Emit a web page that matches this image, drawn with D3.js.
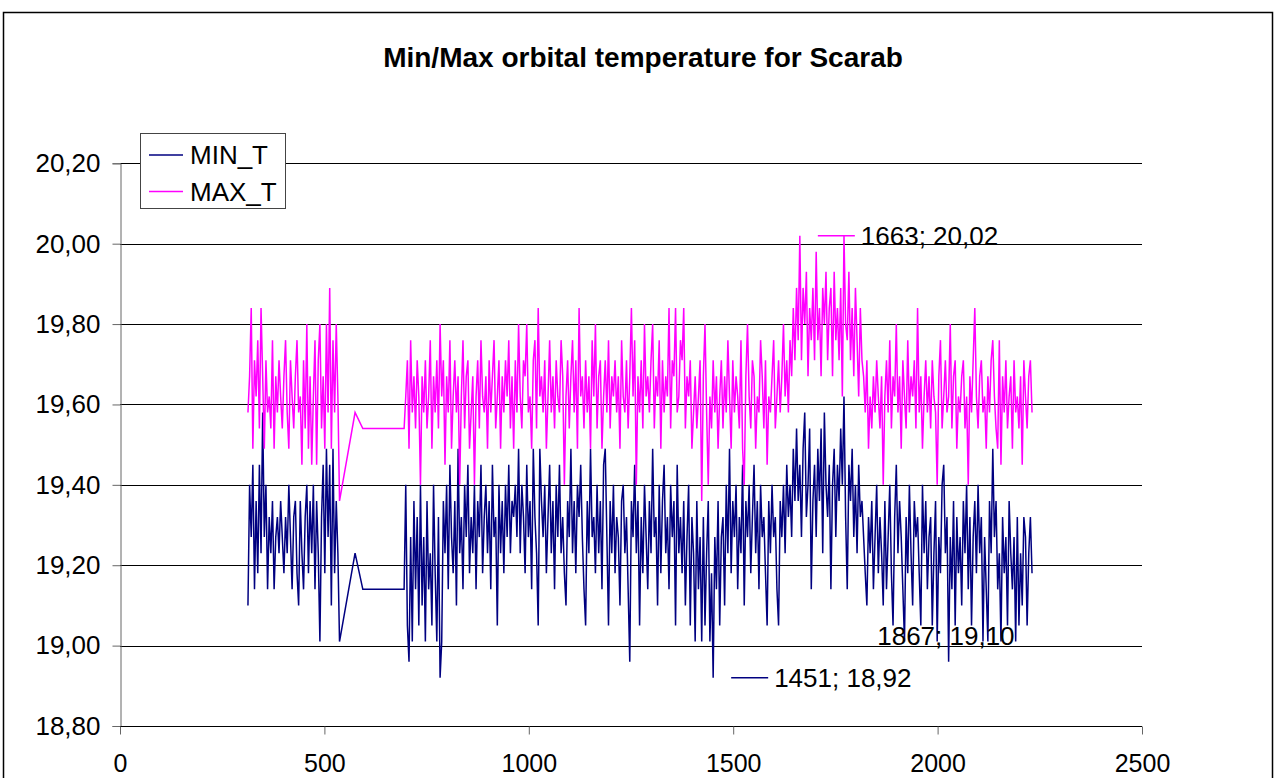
<html>
<head>
<meta charset="utf-8">
<title>Min/Max orbital temperature for Scarab</title>
<script src="https://cdn.jsdelivr.net/npm/d3@7"></script>
<style>
  body { margin: 0; background: #fff; }
  svg text { font-family: "Liberation Sans", Arial, sans-serif; fill: #000; }
  .grid line { stroke: #000; stroke-width: 1; }
</style>
</head>
<body>
<svg id="chart"></svg>
<script>
const WIDTH = 1276
const HEIGHT = 778

const title = "Min/Max orbital temperature for Scarab"
const seriesNames = ["MIN_T", "MAX_T"]
const seriesColors = ["#000080", "#ff00ff"]

const xTicks = [0, 500, 1000, 1500, 2000, 2500]
const yTicks = [18.8, 19.0, 19.2, 19.4, 19.6, 19.8, 20.0, 20.2]
const yTickLabels = ["18,80", "19,00", "19,20", "19,40", "19,60", "19,80", "20,00", "20,20"]

// orbit numbers
const orbit = [
  313, 317, 321, 325, 329, 333, 337, 341, 345, 349,
  353, 357, 361, 365, 369, 373, 377, 381, 385, 389,
  393, 397, 401, 405, 409, 413, 417, 421, 425, 429,
  433, 437, 441, 445, 449, 453, 457, 461, 465, 469,
  473, 477, 481, 485, 489, 493, 497, 501, 505, 509,
  513, 517, 521, 525, 529, 533, 537,
  575, 594, 695,
  699, 703, 707, 711, 715, 719, 723, 727, 731, 735,
  739, 743, 747, 751, 755, 759, 763, 767, 771, 775,
  779, 783, 787, 791, 795, 799, 803, 807, 811, 815,
  819, 823, 827, 831, 835, 839, 843, 847, 851, 855,
  859, 863, 867, 871, 875, 879, 883, 887, 891, 895,
  899, 903, 907, 911, 915, 919, 923, 927, 931, 935,
  939, 943, 947, 951, 955, 959, 963, 967, 971, 975,
  979, 983, 987, 991, 995, 999, 1003, 1007, 1011, 1015,
  1019, 1023, 1027, 1031, 1035, 1039, 1043, 1047, 1051, 1055,
  1059, 1063, 1067, 1071, 1075, 1079, 1083, 1087, 1091, 1095,
  1099, 1103, 1107, 1111, 1115, 1119, 1123, 1127, 1131, 1135,
  1139, 1143, 1147, 1151, 1155, 1159, 1163, 1167, 1171, 1175,
  1179, 1183, 1187, 1191, 1195, 1199, 1203, 1207, 1211, 1215,
  1219, 1223, 1227, 1231, 1235, 1239, 1243, 1247, 1251, 1255,
  1259, 1263, 1267, 1271, 1275, 1279, 1283, 1287, 1291, 1295,
  1299, 1303, 1307, 1311, 1315, 1319, 1323, 1327, 1331, 1335,
  1339, 1343, 1347, 1351, 1355, 1359, 1363, 1367, 1371, 1375,
  1379, 1383, 1387, 1391, 1395, 1399, 1403, 1407, 1411, 1415,
  1419, 1423, 1427, 1431, 1435, 1439, 1443, 1447, 1451, 1455,
  1459, 1463, 1467, 1471, 1475, 1479, 1483, 1487, 1491, 1495,
  1499, 1503, 1507, 1511, 1515, 1519, 1523, 1527, 1531, 1535,
  1539, 1543, 1547, 1551, 1555, 1559, 1563, 1567, 1571, 1575,
  1579, 1583, 1587, 1591, 1595, 1599, 1603, 1607, 1611, 1615,
  1619, 1623, 1627, 1631, 1635, 1639, 1643, 1647, 1651, 1655,
  1659, 1663, 1667, 1671, 1675, 1679, 1683, 1687, 1691, 1695,
  1699, 1703, 1707, 1711, 1715, 1719, 1723, 1727, 1731, 1735,
  1739, 1743, 1747, 1751, 1755, 1759, 1763, 1767, 1771, 1775,
  1779, 1783, 1787, 1791, 1795, 1799, 1803, 1807, 1811, 1815,
  1819, 1823, 1827, 1831, 1835, 1839, 1843, 1847, 1851, 1855,
  1859, 1863, 1867, 1871, 1875, 1879, 1883, 1887, 1891, 1895,
  1899, 1903, 1907, 1911, 1915, 1919, 1923, 1927, 1931, 1935,
  1939, 1943, 1947, 1951, 1955, 1959, 1963, 1967, 1971, 1975,
  1979, 1983, 1987, 1991, 1995, 1999, 2003, 2007, 2011, 2015,
  2019, 2023, 2027, 2031, 2035, 2039, 2043, 2047, 2051, 2055,
  2059, 2063, 2067, 2071, 2075, 2079, 2083, 2087, 2091, 2095,
  2099, 2103, 2107, 2111, 2115, 2119, 2123, 2127, 2131, 2135,
  2139, 2143, 2147, 2151, 2155, 2159, 2163, 2167, 2171, 2175,
  2179, 2183, 2187, 2191, 2195, 2199, 2203, 2207, 2211, 2215,
  2219, 2223, 2227, 2231
]

const minT = [
  19.10, 19.40, 19.27, 19.45, 19.14, 19.36, 19.18, 19.45, 19.23, 19.58,
  19.27, 19.40, 19.14, 19.32, 19.23, 19.36, 19.14, 19.27, 19.32, 19.23,
  19.36, 19.27, 19.18, 19.32, 19.23, 19.40, 19.27, 19.14, 19.32, 19.36,
  19.18, 19.10, 19.36, 19.23, 19.14, 19.32, 19.40, 19.18, 19.36, 19.23,
  19.40, 19.14, 19.36, 19.23, 19.01, 19.32, 19.45, 19.18, 19.49, 19.27,
  19.45, 19.10, 19.49, 19.18, 19.36, 19.23, 19.01,
  19.23, 19.14, 19.14,
  19.40, 19.05, 18.96, 19.27, 19.01, 19.36, 19.14, 19.32, 19.05, 19.40,
  19.10, 19.27, 19.01, 19.36, 19.14, 19.23, 19.05, 19.40, 19.18, 19.01,
  19.32, 18.92, 19.01, 19.36, 19.23, 19.40, 19.14, 19.45, 19.27, 19.18,
  19.36, 19.10, 19.49, 19.23, 19.32, 19.14, 19.40, 19.27, 19.45, 19.18,
  19.32, 19.23, 19.40, 19.14, 19.36, 19.27, 19.45, 19.18, 19.32, 19.40,
  19.23, 19.36, 19.14, 19.45, 19.27, 19.32, 19.05, 19.40, 19.23, 19.36,
  19.18, 19.40, 19.27, 19.45, 19.23, 19.36, 19.32, 19.40, 19.27, 19.49,
  19.23, 19.40, 19.32, 19.18, 19.45, 19.27, 19.36, 19.14, 19.49, 19.32,
  19.23, 19.05, 19.49, 19.36, 19.27, 19.40, 19.18, 19.32, 19.45, 19.23,
  19.36, 19.14, 19.40, 19.27, 19.45, 19.23, 19.32, 19.18, 19.10, 19.36,
  19.27, 19.49, 19.23, 19.36, 19.18, 19.40, 19.32, 19.45, 19.27, 19.14,
  19.05, 19.36, 19.23, 19.49, 19.27, 19.32, 19.18, 19.40, 19.23, 19.36,
  19.14, 19.45, 19.49, 19.27, 19.05, 19.36, 19.23, 19.40, 19.18, 19.32,
  19.27, 19.10, 19.36, 19.40, 19.23, 19.32, 19.14, 18.96, 19.36, 19.27,
  19.45, 19.23, 19.36, 19.05, 19.32, 19.18, 19.40, 19.27, 19.14, 19.36,
  19.23, 19.49, 19.27, 19.32, 19.10, 19.40, 19.18, 19.36, 19.45, 19.23,
  19.32, 19.14, 19.40, 19.27, 19.36, 19.05, 19.45, 19.23, 19.32, 19.18,
  19.36, 19.10, 19.27, 19.40, 19.05, 19.32, 19.23, 19.01, 19.36, 19.14,
  19.27, 19.01, 19.32, 19.05, 19.23, 19.36, 19.01, 19.18, 18.92, 19.27,
  19.14, 19.36, 19.05, 19.27, 19.32, 19.10, 19.40, 19.23, 19.49, 19.18,
  19.36, 19.27, 19.40, 19.14, 19.32, 19.23, 19.45, 19.10, 19.36, 19.27,
  19.40, 19.18, 19.32, 19.45, 19.23, 19.36, 19.14, 19.40, 19.27, 19.32,
  19.18, 19.05, 19.36, 19.23, 19.40, 19.27, 19.32, 19.14, 19.05, 19.36,
  19.27, 19.40, 19.23, 19.45, 19.32, 19.40, 19.27, 19.49, 19.36, 19.54,
  19.36, 19.45, 19.27, 19.49, 19.58, 19.32, 19.40, 19.54, 19.14, 19.36,
  19.45, 19.27, 19.49, 19.36, 19.54, 19.23, 19.58, 19.40, 19.32, 19.45,
  19.14, 19.40, 19.49, 19.27, 19.45, 19.36, 19.54, 19.40, 19.62, 19.32,
  19.14, 19.45, 19.36, 19.49, 19.27, 19.40, 19.23, 19.45, 19.32, 19.36,
  19.27, 19.18, 19.10, 19.32, 19.23, 19.36, 19.14, 19.27, 19.40, 19.18,
  19.32, 19.23, 19.10, 19.36, 19.14, 19.27, 19.40, 19.18, 19.05, 19.32,
  19.45, 19.23, 19.36, 19.27, 19.14, 19.01, 19.32, 19.18, 19.40, 19.23,
  19.10, 19.36, 19.27, 19.32, 19.18, 19.05, 19.40, 19.23, 19.36, 19.14,
  19.27, 19.32, 19.05, 19.23, 19.36, 19.01, 19.27, 19.18, 19.40, 19.45,
  19.23, 19.32, 18.96, 19.27, 19.14, 19.36, 19.05, 19.32, 19.18, 19.27,
  19.10, 19.36, 19.23, 19.40, 19.14, 19.32, 19.05, 19.27, 19.36, 19.18,
  19.40, 19.23, 19.32, 19.01, 19.27, 19.14, 19.01, 19.36, 19.23, 19.49,
  19.27, 19.36, 19.14, 19.23, 19.01, 19.32, 19.18, 19.27, 19.05, 19.36,
  19.23, 19.14, 19.27, 19.01, 19.32, 19.05, 19.23, 19.10, 19.32, 19.27,
  19.05, 19.23, 19.32, 19.18
]

const maxT = [
  19.58, 19.67, 19.84, 19.49, 19.71, 19.62, 19.76, 19.54, 19.84, 19.67,
  19.49, 19.71, 19.58, 19.62, 19.54, 19.76, 19.49, 19.67, 19.58, 19.71,
  19.62, 19.54, 19.67, 19.76, 19.58, 19.49, 19.71, 19.62, 19.54, 19.67,
  19.76, 19.58, 19.62, 19.45, 19.71, 19.54, 19.80, 19.49, 19.67, 19.45,
  19.62, 19.76, 19.45, 19.71, 19.80, 19.54, 19.67, 19.49, 19.80, 19.58,
  19.89, 19.49, 19.76, 19.58, 19.80, 19.62, 19.36,
  19.58, 19.54, 19.54,
  19.62, 19.71, 19.49, 19.76, 19.58, 19.67, 19.54, 19.71, 19.62, 19.40,
  19.67, 19.58, 19.71, 19.54, 19.62, 19.76, 19.49, 19.67, 19.58, 19.71,
  19.54, 19.80, 19.62, 19.71, 19.45, 19.67, 19.58, 19.76, 19.49, 19.62,
  19.71, 19.58, 19.67, 19.40, 19.62, 19.76, 19.54, 19.67, 19.71, 19.49,
  19.58, 19.67, 19.40, 19.62, 19.71, 19.54, 19.76, 19.62, 19.58, 19.67,
  19.49, 19.71, 19.58, 19.67, 19.76, 19.54, 19.62, 19.71, 19.49, 19.67,
  19.58, 19.71, 19.62, 19.76, 19.54, 19.67, 19.49, 19.71, 19.58, 19.80,
  19.62, 19.54, 19.71, 19.67, 19.80, 19.58, 19.62, 19.49, 19.71, 19.76,
  19.54, 19.84, 19.62, 19.67, 19.58, 19.71, 19.49, 19.62, 19.76, 19.58,
  19.67, 19.54, 19.71, 19.62, 19.58, 19.76, 19.67, 19.40, 19.62, 19.71,
  19.54, 19.67, 19.76, 19.58, 19.71, 19.49, 19.84, 19.62, 19.67, 19.54,
  19.71, 19.58, 19.67, 19.49, 19.76, 19.62, 19.80, 19.54, 19.67, 19.71,
  19.49, 19.62, 19.71, 19.58, 19.76, 19.54, 19.67, 19.62, 19.71, 19.58,
  19.67, 19.49, 19.76, 19.62, 19.58, 19.71, 19.54, 19.67, 19.84, 19.62,
  19.76, 19.40, 19.67, 19.58, 19.71, 19.54, 19.80, 19.62, 19.67, 19.58,
  19.71, 19.80, 19.54, 19.67, 19.62, 19.76, 19.49, 19.71, 19.58, 19.67,
  19.62, 19.84, 19.54, 19.71, 19.67, 19.84, 19.58, 19.62, 19.76, 19.71,
  19.84, 19.54, 19.67, 19.62, 19.71, 19.49, 19.58, 19.67, 19.54, 19.62,
  19.71, 19.36, 19.67, 19.80, 19.58, 19.40, 19.62, 19.54, 19.71, 19.58,
  19.67, 19.49, 19.62, 19.71, 19.54, 19.67, 19.58, 19.76, 19.62, 19.49,
  19.71, 19.58, 19.67, 19.62, 19.54, 19.76, 19.49, 19.40, 19.67, 19.80,
  19.62, 19.54, 19.71, 19.67, 19.49, 19.62, 19.58, 19.76, 19.67, 19.54,
  19.71, 19.45, 19.62, 19.58, 19.67, 19.76, 19.54, 19.62, 19.71, 19.58,
  19.67, 19.80, 19.62, 19.71, 19.58, 19.76, 19.67, 19.84, 19.71, 19.89,
  19.76, 20.02, 19.71, 19.89, 19.80, 19.93, 19.67, 19.84, 19.76, 19.89,
  19.71, 19.98, 19.76, 19.84, 19.67, 19.89, 19.80, 19.93, 19.71, 19.84,
  19.89, 19.67, 19.93, 19.76, 19.84, 19.71, 19.89, 19.62, 20.02, 19.80,
  19.76, 19.93, 19.71, 19.84, 19.67, 19.89, 19.76, 19.62, 19.84, 19.71,
  19.67, 19.58, 19.71, 19.49, 19.62, 19.54, 19.67, 19.58, 19.71, 19.62,
  19.54, 19.67, 19.40, 19.62, 19.71, 19.58, 19.76, 19.54, 19.67, 19.62,
  19.80, 19.58, 19.67, 19.49, 19.71, 19.62, 19.54, 19.76, 19.58, 19.67,
  19.62, 19.71, 19.54, 19.84, 19.58, 19.67, 19.49, 19.62, 19.71, 19.58,
  19.67, 19.54, 19.71, 19.62, 19.58, 19.40, 19.67, 19.76, 19.54, 19.62,
  19.71, 19.58, 19.62, 19.80, 19.54, 19.67, 19.71, 19.49, 19.62, 19.58,
  19.67, 19.71, 19.54, 19.62, 19.40, 19.67, 19.58, 19.71, 19.84, 19.62,
  19.54, 19.67, 19.71, 19.58, 19.62, 19.49, 19.67, 19.58, 19.71, 19.76,
  19.62, 19.54, 19.49, 19.76, 19.45, 19.67, 19.58, 19.71, 19.54, 19.62,
  19.67, 19.49, 19.71, 19.58, 19.62, 19.54, 19.67, 19.45, 19.71, 19.62,
  19.54, 19.67, 19.71, 19.58
]

// data labels: [orbit, value, text, series]
const pointLabels = [
  [1663, 20.02, "1663; 20,02", 1],
  [1451, 18.92, "1451; 18,92", 0],
  [1867, 19.10, "1867; 19,10", 0]
]

function drawChart() {
  const svg = d3.select("#chart")
    .attr("width", WIDTH)
    .attr("height", HEIGHT)

  // chart area border
  svg.append("rect")
    .attr("x", 3.5).attr("y", 12.5)
    .attr("width", 1269).attr("height", 790)
    .attr("fill", "white")
    .attr("stroke", "#000")
    .attr("stroke-width", 1.5)

  const x = d3.scaleLinear().domain([0, 2500]).range([120, 1142])
  const y = d3.scaleLinear().domain([18.8, 20.2]).range([726, 163.3])

  svg.append("text")
    .attr("x", 643).attr("y", 67)
    .attr("text-anchor", "middle")
    .style("font-size", "28px")
    .style("font-weight", "bold")
    .text(title)

  // gridlines
  svg.append("g").attr("class", "grid")
    .selectAll("line")
    .data(yTicks.slice(1))
    .enter().append("line")
      .attr("x1", x(0)).attr("x2", x(2500))
      .attr("y1", d => Math.round(y(d)) + 0.5)
      .attr("y2", d => Math.round(y(d)) + 0.5)

  const yAxis = d3.axisLeft(y)
    .tickValues(yTicks)
    .tickFormat((d, i) => yTickLabels[i])
    .tickSize(8)
    .tickPadding(12)
  const gy = svg.append("g").attr("transform", `translate(${x(0) + 0.5},0)`).call(yAxis)
  gy.select(".domain").attr("stroke", "#666")
  gy.selectAll(".tick line").attr("stroke", "#666")
  gy.selectAll("text").style("font-size", "26px").attr("fill", "#000")

  const xAxis = d3.axisBottom(x)
    .tickValues(xTicks)
    .tickFormat(d3.format("d"))
    .tickSize(8)
    .tickPadding(20)
  const gx = svg.append("g").attr("transform", `translate(0,${Math.round(y(18.8)) + 0.5})`).call(xAxis)
  gx.select(".domain").attr("stroke", "#000").attr("d", `M${x(0)},0H${x(2500)}`)
  gx.selectAll(".tick line").attr("stroke", "#666")
  gx.selectAll("text").style("font-size", "25px").attr("fill", "#000")

  if (minT.length !== orbit.length || maxT.length !== orbit.length)
    console.log("length mismatch", orbit.length, minT.length, maxT.length)

  const series = [minT, maxT]
  const line = d3.line()
    .defined(d => d[1] !== undefined)
    .x(d => x(d[0]))
    .y(d => y(d[1]))

  svg.append("g")
    .selectAll("path")
    .data(series)
    .enter().append("path")
      .attr("d", vals => line(orbit.map((o, i) => [o, vals[i]])))
      .attr("fill", "none")
      .attr("stroke", (d, i) => seriesColors[i])
      .attr("stroke-width", 1.5)

  // point labels with legend key
  pointLabels.forEach(([o, v, txt, s]) => {
    const px = x(o), py = y(v)
    if (o === 1867) {
      svg.append("text")
        .attr("x", px - 6).attr("y", py + 30)
        .attr("dy", "0.35em")
        .style("font-size", "26px")
        .text(txt)
      return
    }
    svg.append("line")
      .attr("x1", px + 18).attr("x2", px + 55)
      .attr("y1", py).attr("y2", py)
      .attr("stroke", seriesColors[s])
      .attr("stroke-width", 1.5)
    svg.append("text")
      .attr("x", px + 61).attr("y", py)
      .attr("dy", "0.35em")
      .style("font-size", "26px")
      .text(txt)
  })

  // legend
  const legend = svg.append("g")
  legend.append("rect")
    .attr("x", 140.5).attr("y", 133.5)
    .attr("width", 145).attr("height", 75)
    .attr("fill", "white")
    .attr("stroke", "#444")
  seriesNames.forEach((name, i) => {
    const cy = 155 + i * 36.5
    legend.append("line")
      .attr("x1", 149).attr("x2", 183)
      .attr("y1", cy).attr("y2", cy)
      .attr("stroke", seriesColors[i])
      .attr("stroke-width", 1.5)
    legend.append("text")
      .attr("x", 190).attr("y", cy)
      .attr("dy", "0.35em")
      .style("font-size", "26px")
      .text(name)
  })
}

drawChart()
</script>
</body>
</html>
